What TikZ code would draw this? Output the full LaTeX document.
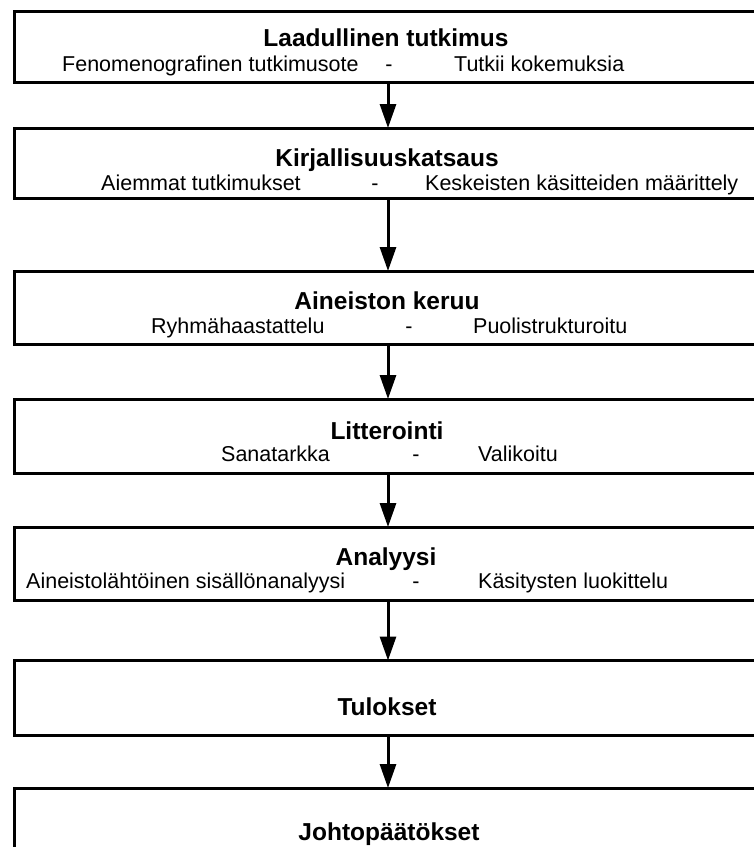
\documentclass[tikz,border=0pt]{standalone}
\usepackage{fontspec}
\setmainfont{Liberation Sans}
\usetikzlibrary{arrows.meta}
\begin{document}
\begin{tikzpicture}[x=1pt,y=-1pt,
  box/.style={draw=black, line width=3pt, minimum width=748pt, inner sep=0pt, outer sep=0pt, rectangle},
  ttl/.style={font=\fontsize{24.5}{28}\selectfont\bfseries, inner sep=0pt, anchor=base},
  sub/.style={font=\fontsize{21.5}{24}\selectfont, inner sep=0pt, anchor=base west},
  dsh/.style={font=\fontsize{21.5}{24}\selectfont, inner sep=0pt, anchor=base},
  arr/.style={line width=3pt, -{Triangle[length=24pt,width=16pt]}}
]
\useasboundingbox (0,0) rectangle (754,847);
\clip (0,0) rectangle (754,847);
\fill[white] (0,0) rectangle (754,847);

% boxes
\node[box, minimum height=71pt] (b1) at (388,46.5) {};
\node[box, minimum height=70pt] (b2) at (388,163) {};
\node[box, minimum height=73pt] (b3) at (388,307.5) {};
\node[box, minimum height=74pt] (b4) at (388,436) {};
\node[box, minimum height=73pt] (b5) at (388,563.5) {};
\node[box, minimum height=75pt] (b6) at (388,698) {};
\node[box, minimum height=112pt] (b7) at (388,844) {};

% arrows
\draw[arr] (b1.south) -- (b2.north);
\draw[arr] (b2.south) -- (b3.north);
\draw[arr] (b3.south) -- (b4.north);
\draw[arr] (b4.south) -- (b5.north);
\draw[arr] (b5.south) -- (b6.north);
\draw[arr] (b6.south) -- (b7.north);

% box 1
\node[ttl] (t1) at (386,46) {Laadullinen tutkimus};
\node[sub] (s1a) at (62,71) {Fenomenografinen tutkimusote};
\node[dsh] (s1b) at (389,71) {-};
\node[sub] (s1c) at (454,71) {Tutkii kokemuksia};

% box 2
\node[ttl] (t2) at (387,166) {Kirjallisuuskatsaus};
\node[sub] (s2a) at (101,190) {Aiemmat tutkimukset};
\node[dsh] (s2b) at (375,190) {-};
\node[sub] (s2c) at (425,190) {Keskeisten käsitteiden määrittely};

% box 3
\node[ttl] (t3) at (387,309) {Aineiston keruu};
\node[sub] (s3a) at (151,333) {Ryhmähaastattelu};
\node[dsh] (s3b) at (409,333) {-};
\node[sub] (s3c) at (473,333) {Puolistrukturoitu};

% box 4
\node[ttl] (t4) at (387,439) {Litterointi};
\node[sub] (s4a) at (221,461) {Sanatarkka};
\node[dsh] (s4b) at (416,461) {-};
\node[sub] (s4c) at (478,461) {Valikoitu};

% box 5
\node[ttl] (t5) at (386,565) {Analyysi};
\node[sub] (s5a) at (26,588) {Aineistolähtöinen sisällönanalyysi};
\node[dsh] (s5b) at (416,588) {-};
\node[sub] (s5c) at (478,588) {Käsitysten luokittelu};

% box 6, 7
\node[ttl] (t6) at (387,715) {Tulokset};
\node[ttl] (t7) at (389,840) {Johtopäätökset};
\end{tikzpicture}
\end{document}
